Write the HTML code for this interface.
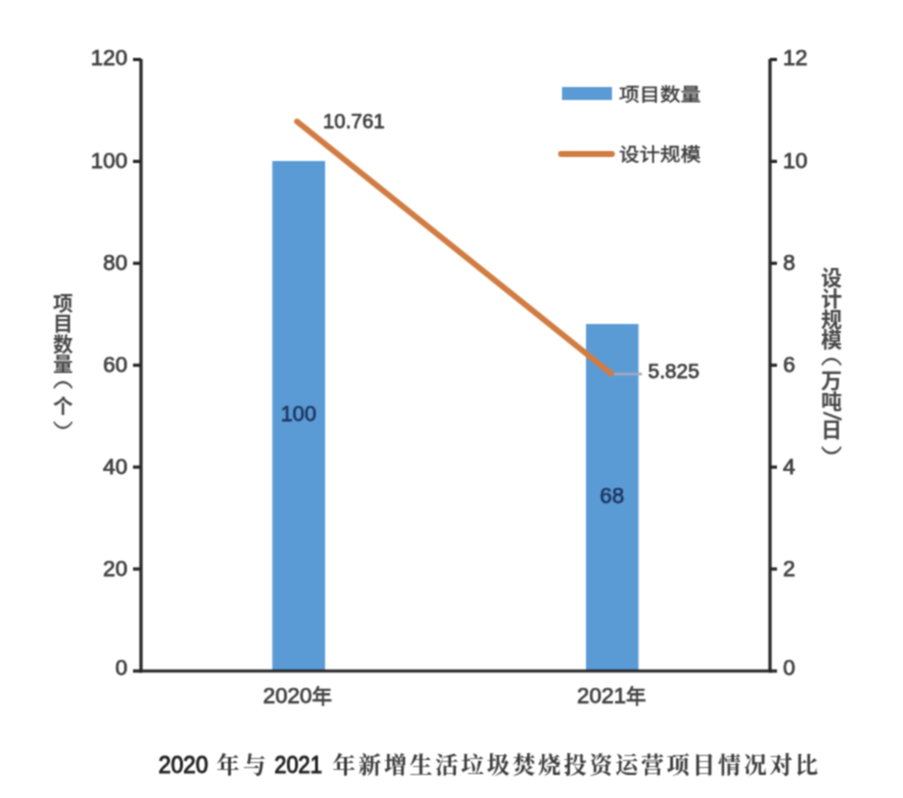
<!DOCTYPE html>
<html><head><meta charset="utf-8">
<style>
html,body{margin:0;padding:0;background:#fff;}
body{width:903px;height:798px;overflow:hidden;position:relative;}
#w{position:absolute;left:0;top:0;width:903px;height:798px;filter:url(#gb);}
svg{position:absolute;left:0;top:0;}
.t{font-family:"Liberation Sans","Noto Sans CJK SC",sans-serif;fill:#404040;stroke:#404040;stroke-width:0.75;}
.c{font-family:"Noto Sans CJK SC",sans-serif;fill:#383838;stroke:#383838;stroke-width:0.4;}
.vl{position:absolute;writing-mode:vertical-rl;text-spacing-trim:space-all;font-family:"Noto Sans CJK SC",sans-serif;font-weight:700;color:#484848;white-space:nowrap;}
.vl span{position:relative;}
.cd{font-family:"Liberation Sans",sans-serif;font-size:24px;fill:#1e1e1e;stroke:#1e1e1e;stroke-width:1;}
.cz{font-family:"Noto Serif CJK SC",serif;font-size:23px;font-weight:700;fill:#3a3a3a;}
</style></head>
<body>
<svg width="0" height="0" style="position:absolute;left:0;top:0"><filter id="gb" x="0" y="0" width="100%" height="100%" color-interpolation-filters="sRGB"><feConvolveMatrix order="3" kernelMatrix="1 2 1 2 4 2 1 2 1" divisor="16" edgeMode="duplicate"/></filter></svg>
<div id="w">
<svg width="903" height="798" viewBox="0 0 903 798">
  <!-- bars -->
  <rect x="272.3" y="161" width="52.8" height="510" fill="#5b9bd5"/>
  <rect x="586" y="324" width="52.5" height="347" fill="#5b9bd5"/>
  <!-- axes -->
  <g stroke="#262626" stroke-width="3.2" fill="none">
    <line x1="141" y1="59" x2="141" y2="672.5"/>
    <line x1="770" y1="59" x2="770" y2="672.5"/>
    <line x1="139.5" y1="671" x2="771.5" y2="671"/>
    <line x1="133" y1="59.5" x2="141" y2="59.5"/>
    <line x1="133" y1="161.4" x2="141" y2="161.4"/>
    <line x1="133" y1="263.3" x2="141" y2="263.3"/>
    <line x1="133" y1="365.2" x2="141" y2="365.2"/>
    <line x1="133" y1="467.1" x2="141" y2="467.1"/>
    <line x1="133" y1="569" x2="141" y2="569"/>
    <line x1="133" y1="671" x2="141" y2="671"/>
    <line x1="770" y1="59.5" x2="777" y2="59.5"/>
    <line x1="770" y1="161.4" x2="777" y2="161.4"/>
    <line x1="770" y1="263.3" x2="777" y2="263.3"/>
    <line x1="770" y1="365.2" x2="777" y2="365.2"/>
    <line x1="770" y1="467.1" x2="777" y2="467.1"/>
    <line x1="770" y1="569" x2="777" y2="569"/>
    <line x1="770" y1="671" x2="777" y2="671"/>
  </g>
  <!-- leader line -->
  <line x1="611" y1="374" x2="642" y2="374" stroke="#a0aac0" stroke-width="2.6"/>
  <!-- line series -->
  <line x1="297" y1="121.5" x2="611" y2="373.5" stroke="#d17c42" stroke-width="5.8" stroke-linecap="round"/>
  <!-- legend -->
  <rect x="562" y="87" width="50" height="13" fill="#5b9bd5"/>
  <line x1="561" y1="154" x2="612" y2="154" stroke="#d17c42" stroke-width="5.8" stroke-linecap="round"/>
  <g class="c" font-size="20.5">
    <text x="619" y="101.7" transform="translate(0,94.5) scale(1,0.9) translate(0,-94.5)">项目数量</text>
    <text x="619" y="161.4" transform="translate(0,154.25) scale(1,0.9) translate(0,-154.25)">设计规模</text>
  </g>
  <!-- left tick labels -->
  <g class="t" font-size="22" text-anchor="end">
    <text x="127.5" y="65.2">120</text>
    <text x="127.5" y="168">100</text>
    <text x="127.5" y="270">80</text>
    <text x="127.5" y="372">60</text>
    <text x="127.5" y="474">40</text>
    <text x="127.5" y="576">20</text>
    <text x="127.5" y="675">0</text>
  </g>
  <!-- right tick labels -->
  <g class="t" font-size="22">
    <text x="783" y="65.2">12</text>
    <text x="783" y="168">10</text>
    <text x="783" y="270">8</text>
    <text x="783" y="372">6</text>
    <text x="783" y="474">4</text>
    <text x="783" y="576">2</text>
    <text x="783" y="675">0</text>
  </g>
  <!-- data labels -->
  <g class="t" font-size="21">
    <text x="323" y="127.5" textLength="61.7" lengthAdjust="spacingAndGlyphs">10.761</text>
    <text x="648" y="377.5" textLength="51.3" lengthAdjust="spacingAndGlyphs">5.825</text>
  </g>
  <g class="t" font-size="22" style="fill:#1f3864;stroke:#1f3864" text-anchor="middle">
    <text x="298.5" y="421.2" textLength="35.6" lengthAdjust="spacingAndGlyphs">100</text>
    <text x="612" y="503">68</text>
  </g>
  <!-- category labels -->
  <g class="t" font-size="22" text-anchor="middle">
    <text x="297.5" y="703.2">2020<tspan font-size="20" dy="0.6">年</tspan></text>
    <text x="611.5" y="703.2">2021<tspan font-size="20" dy="0.6">年</tspan></text>
  </g>
</svg>
<div class="vl" style="left:48.5px;top:292.5px;font-size:20px;letter-spacing:0.6px;">项目数量<span style="top:-10px;display:inline-block;font-weight:400;transform:scaleY(1.5)">（</span>个<span style="top:9px;display:inline-block;font-weight:400;transform:scaleY(1.5)">）</span></div>
<div class="vl" style="left:816.5px;top:267px;font-size:21px;letter-spacing:-0.4px;">设计规模<span style="top:-9.5px;display:inline-block;font-weight:400;transform:scaleY(1.5)">（</span>万吨<span style="display:inline-block;font-weight:900;transform:translate(2.5px,1.5px) rotate(7deg) scale(0.9,1)">/</span>日<span style="top:10.5px;display:inline-block;font-weight:400;transform:scaleY(1.5)">）</span></div>
</div>
<svg id="cap" width="903" height="798" viewBox="0 0 903 798" style="filter:url(#gb)">
  <!-- caption -->
  <text class="cd" x="158.5" y="773" textLength="49.5" lengthAdjust="spacingAndGlyphs">2020</text>
  <text class="cz" x="216.5 243" y="773">年与</text>
  <text class="cd" x="274.5" y="773" textLength="47.5" lengthAdjust="spacingAndGlyphs">2021</text>
  <text class="cz" x="332.5 358.2 383.9 409.6 435.3 461.0 486.7 512.4 538.1 563.8 589.5 615.2 640.9 666.6 692.3 718.0 743.7 769.4 795.1" y="773">年新增生活垃圾焚烧投资运营项目情况对比</text>
</svg>
</body></html>
